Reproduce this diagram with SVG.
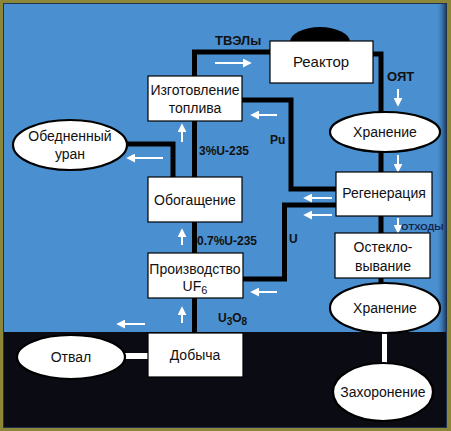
<svg xmlns="http://www.w3.org/2000/svg" width="451" height="431" viewBox="0 0 451 431">
<defs>
<marker id="wa" viewBox="0 0 10 10" refX="8" refY="5" markerWidth="4.5" markerHeight="4.5" orient="auto">
<path d="M0,0 L10,5 L0,10 z" fill="#ffffff"/>
</marker>
<linearGradient id="rs" x1="0" y1="0" x2="1" y2="0">
<stop offset="0" stop-color="#4a8fd0" stop-opacity="0"/>
<stop offset="1" stop-color="#1d3c64"/>
</linearGradient>
</defs>
<style>
.bx{fill:#ffffff;stroke:#000;stroke-width:1.2}
.el{fill:#ffffff;stroke:#000;stroke-width:2.2}
.cn{fill:none;stroke:#000;stroke-width:5}
.cw{fill:none;stroke:#ffffff;stroke-width:5}
.ar{fill:none;stroke:#ffffff;stroke-width:2;marker-end:url(#wa)}
.t{font-family:"Liberation Sans",Arial,sans-serif;font-size:14px;fill:#111;text-anchor:middle}
.lb{font-family:"Liberation Sans",Arial,sans-serif;font-size:12px;font-weight:bold;fill:#111}
</style>
<rect x="0" y="0" width="451" height="431" fill="#8b8638"/>
<rect x="3" y="3" width="444" height="425" fill="#1e3350"/>
<rect x="4" y="4" width="442" height="328" fill="#4a8fd0"/>
<rect x="436" y="4" width="10" height="328" fill="url(#rs)"/>
<rect x="4" y="332" width="442" height="95" fill="#0b0b14"/>

<g id="connectors">
<path class="cn" d="M194.5 76 V52 H270"/>
<path class="cn" d="M373 54 H381 V112"/>
<path class="cn" d="M381 152 V172"/>
<path class="cn" d="M242 100 H291 V189 H336"/>
<path class="cn" d="M243 279 H284.5 V205 H336"/>
<path class="cn" d="M194.5 121 V177"/>
<path class="cn" d="M127 144 H173 V177"/>
<path class="cn" d="M194.5 222 V253"/>
<path class="cn" d="M194.5 298 V333"/>
<path class="cn" d="M381 216 V233"/>
<path class="cn" d="M381 278 V284"/>
<path class="cw" d="M384.5 333 V364"/>
<path class="cw" style="stroke-width:6" d="M124 356 H148"/>
</g>

<g id="flow-arrows">
<path class="ar" d="M215 63 H250"/>
<path class="ar" d="M398 89 V105"/>
<path class="ar" d="M277 115 H252"/>
<path class="ar" d="M182 142 V125"/>
<path class="ar" d="M163 158 H128"/>
<path class="ar" d="M398 155 V171"/>
<path class="ar" d="M332 198 H305"/>
<path class="ar" d="M332 215 H305"/>
<path class="ar" d="M398 218 V232"/>
<path class="ar" d="M182 245 V230"/>
<path class="ar" d="M277 292 H252"/>
<path class="ar" d="M182 323 V308"/>
<path class="ar" d="M145 324 H118"/>
</g>

<g id="reactor">
<ellipse cx="320" cy="42" rx="30" ry="15" fill="#000"/>
<rect class="bx" x="270" y="41" width="103" height="42"/>
<text class="t" x="321" y="67" style="font-size:15px">Реактор</text>
</g>
<g id="fuel">
<rect class="bx" x="148" y="76" width="94" height="45"/>
<text class="t" x="195" y="95">Изготовление</text>
<text class="t" x="195" y="113">топлива</text>
</g>
<g id="depleted">
<ellipse class="el" cx="70" cy="145" rx="57" ry="25"/>
<text class="t" x="70" y="141">Обедненный</text>
<text class="t" x="70" y="159">уран</text>
</g>
<g id="enrichment">
<rect class="bx" x="148" y="177" width="94" height="45"/>
<text class="t" x="195" y="205">Обогащение</text>
</g>
<g id="uf6">
<rect class="bx" x="148" y="253" width="95" height="45"/>
<text class="t" x="195" y="274">Производство</text>
<text class="t" x="195" y="291">UF<tspan font-size="11" dy="3">6</tspan></text>
</g>
<g id="mining">
<rect class="bx" x="148" y="333" width="95" height="44"/>
<text class="t" x="195" y="360">Добыча</text>
</g>
<g id="tailings">
<ellipse class="el" cx="71" cy="357" rx="54" ry="22"/>
<text class="t" x="71" y="362">Отвал</text>
</g>
<g id="storage1">
<ellipse class="el" cx="385" cy="132" rx="55" ry="20"/>
<text class="t" x="385" y="137">Хранение</text>
</g>
<g id="regeneration">
<rect class="bx" x="336" y="172" width="96" height="44"/>
<text class="t" x="384" y="198">Регенерация</text>
</g>
<g id="vitrification">
<rect class="bx" x="335" y="233" width="95" height="45"/>
<text class="t" x="383" y="252">Остекло-</text>
<text class="t" x="383" y="271">вывание</text>
</g>
<g id="storage2">
<ellipse class="el" cx="385" cy="308" rx="55" ry="25"/>
<text class="t" x="385" y="313">Хранение</text>
</g>
<g id="burial">
<ellipse class="el" cx="383" cy="392" rx="50" ry="29"/>
<text class="t" x="383" y="397">Захоронение</text>
</g>

<g id="labels">
<text class="lb" x="215" y="45" style="font-size:13px">ТВЭЛы</text>
<text class="lb" x="387" y="81" style="font-size:13px">ОЯТ</text>
<text class="lb" x="270" y="144">Pu</text>
<text class="lb" x="199" y="155">3%U-235</text>
<text class="lb" x="289" y="243">U</text>
<text class="lb" x="197" y="245">0.7%U-235</text>
<text class="lb" x="218" y="322">U<tspan font-size="10" dy="3">3</tspan><tspan dy="-3">O</tspan><tspan font-size="10" dy="3">8</tspan></text>
<text class="lb" x="401" y="230" style="font-size:9.5px;fill:#14254a">ОТХОДЫ</text>
</g>
</svg>
